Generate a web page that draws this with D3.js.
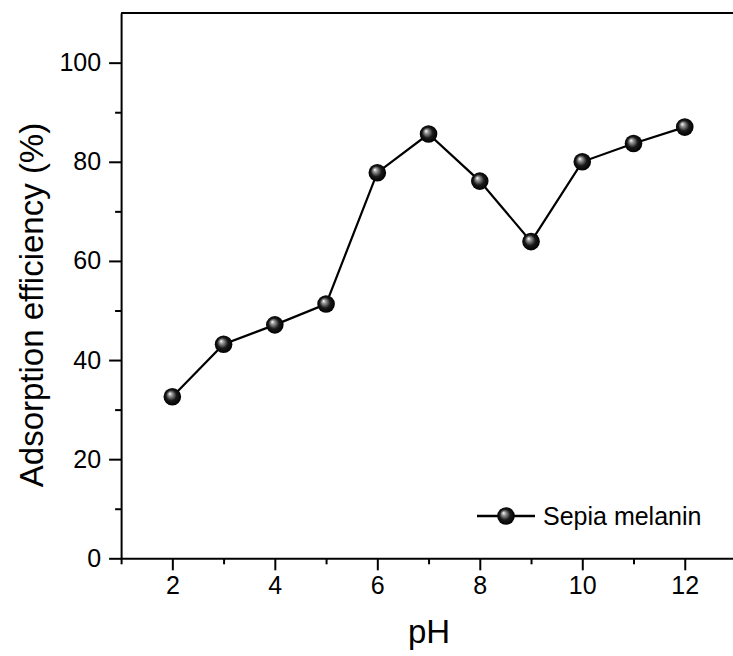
<!DOCTYPE html>
<html>
<head>
<meta charset="utf-8">
<script src="https://cdn.jsdelivr.net/npm/d3@7.9.0/dist/d3.min.js"></script>
<style>
  body { margin: 0; background: #fff; }
  svg { display: block; font-family: Arial, "Liberation Sans", Helvetica, sans-serif; }
  .axis path, .axis line { stroke: #000; stroke-width: 2px; }
  .axis text { fill: #000; font-size: 25px; }
</style>
</head>
<body>
<svg id="chart" width="733" height="656"></svg>
<script>
const phValues = [2, 3, 4, 5, 6, 7, 8, 9, 10, 11, 12];
const efficiency = [32.6, 43.2, 47.1, 51.3, 77.8, 85.6, 76.1, 63.9, 80.0, 83.7, 87.0];
const xMajorTicks = [2, 4, 6, 8, 10, 12];
const xMinorTicks = [1, 3, 5, 7, 9, 11];
const yMajorTicks = [0, 20, 40, 60, 80, 100];
const yMinorTicks = [10, 30, 50, 70, 90];
const seriesName = 'Sepia melanin';

const svg = d3.select('#chart');

const x = d3.scaleLinear().domain([1, 13]).range([121.1, 736]);
const y = d3.scaleLinear().domain([0, 110]).range([558.3, 13.1]);

// ball marker gradient
const defs = svg.append('defs');
const grad = defs.append('radialGradient')
  .attr('id', 'ball')
  .attr('cx', '50%').attr('cy', '50%').attr('r', '50%')
  .attr('fx', '35%').attr('fy', '32%');
grad.append('stop').attr('offset', '0%').attr('stop-color', '#ffffff');
grad.append('stop').attr('offset', '22%').attr('stop-color', '#9a9a9a');
grad.append('stop').attr('offset', '60%').attr('stop-color', '#1a1a1a');
grad.append('stop').attr('offset', '100%').attr('stop-color', '#000000');

// top frame line
svg.append('line')
  .attr('x1', x(1)).attr('x2', 733)
  .attr('y1', y(110)).attr('y2', y(110))
  .attr('stroke', '#000').attr('stroke-width', 2);

// x axis
svg.append('g')
  .attr('class', 'axis')
  .attr('transform', `translate(0,${y(0)})`)
  .call(d3.axisBottom(x).tickValues(xMajorTicks).tickSize(12).tickPadding(6).tickSizeOuter(0));
svg.append('g')
  .attr('class', 'axis')
  .attr('transform', `translate(0,${y(0)})`)
  .call(d3.axisBottom(x).tickValues(xMinorTicks).tickSize(6).tickFormat('').tickSizeOuter(0))
  .select('.domain').remove();

// y axis
svg.append('g')
  .attr('class', 'axis')
  .attr('transform', `translate(${x(1)},0)`)
  .call(d3.axisLeft(y).tickValues(yMajorTicks).tickSize(12).tickPadding(8).tickSizeOuter(0));
svg.append('g')
  .attr('class', 'axis')
  .attr('transform', `translate(${x(1)},0)`)
  .call(d3.axisLeft(y).tickValues(yMinorTicks).tickSize(6).tickFormat('').tickSizeOuter(0))
  .select('.domain').remove();

// axis titles
svg.append('text')
  .attr('x', 429).attr('y', 643)
  .attr('text-anchor', 'middle')
  .attr('font-size', 33)
  .text('pH');

svg.append('text')
  .attr('transform', `translate(43,305) rotate(-90)`)
  .attr('text-anchor', 'middle')
  .attr('font-size', 33)
  .text('Adsorption efficiency (%)');

// data line
const data = phValues.map((p, i) => ({ p, v: efficiency[i] }));
svg.append('path')
  .datum(data)
  .attr('fill', 'none')
  .attr('stroke', '#000')
  .attr('stroke-width', 2.2)
  .attr('d', d3.line().x(d => x(d.p)).y(d => y(d.v)));

svg.selectAll('circle.pt')
  .data(data)
  .join('circle')
  .attr('class', 'pt')
  .attr('cx', d => x(d.p))
  .attr('cy', d => y(d.v))
  .attr('r', 8.8)
  .attr('fill', 'url(#ball)');

// legend
const legend = svg.append('g').attr('transform', 'translate(477,516)');
legend.append('line')
  .attr('x1', 0).attr('x2', 58)
  .attr('y1', 0).attr('y2', 0)
  .attr('stroke', '#000').attr('stroke-width', 2.4);
legend.append('circle')
  .attr('cx', 29).attr('cy', 0).attr('r', 8.8)
  .attr('fill', 'url(#ball)');
legend.append('text')
  .attr('x', 66).attr('y', 8.5)
  .attr('font-size', 25)
  .text(seriesName);
</script>
</body>
</html>
